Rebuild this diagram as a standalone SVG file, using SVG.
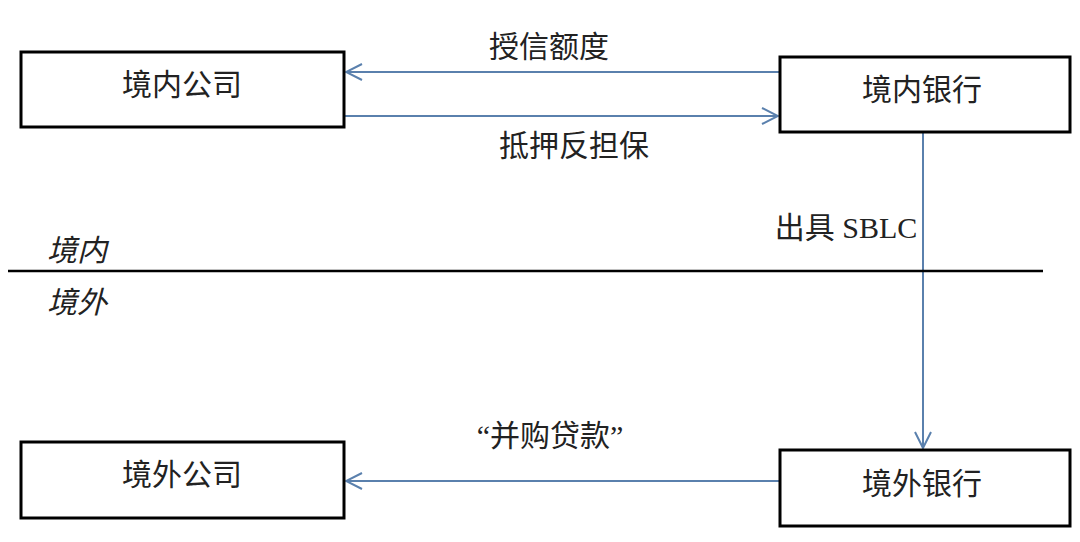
<svg xmlns="http://www.w3.org/2000/svg" width="1080" height="542" viewBox="0 0 1080 542">
<defs>
<style>
.box{fill:#fff;stroke:#000;stroke-width:3}
.nt{font-family:"Liberation Serif","Noto Sans CJK SC",serif;font-size:30px;fill:#222;text-anchor:middle}
.lbl{font-family:"Liberation Serif","Noto Sans CJK SC",serif;font-size:30px;fill:#222;text-anchor:middle}
.it{font-family:"Liberation Serif","Noto Sans CJK SC",serif;font-size:30px;fill:#222;font-style:italic}
.ar{stroke:#5a80ad;stroke-width:2;fill:none}
</style>
<marker id="ah" viewBox="0 0 20 20" refX="18" refY="10" markerWidth="20" markerHeight="20" markerUnits="userSpaceOnUse" orient="auto">
<path d="M2,2 L18,10 L2,18" fill="none" stroke="#5a80ad" stroke-width="2"/>
</marker>
</defs>
<rect width="1080" height="542" fill="#fff"/>
<g id="connectors">
<line class="ar" x1="780" y1="72" x2="346" y2="72" marker-end="url(#ah)"/>
<line class="ar" x1="344" y1="116" x2="778" y2="116" marker-end="url(#ah)"/>
<line class="ar" x1="923" y1="133" x2="923" y2="448" marker-end="url(#ah)"/>
<line class="ar" x1="780" y1="481" x2="346" y2="481" marker-end="url(#ah)"/>
<text class="lbl" x="549" y="57">授信额度</text>
<text class="lbl" x="574" y="156">抵押反担保</text>
<text class="lbl" x="846" y="238">出具 SBLC</text>
<text class="lbl" x="550" y="446">“并购贷款”</text>
</g>
<g id="border">
<line x1="8" y1="271" x2="1043" y2="271" stroke="#000" stroke-width="2.5"/>
<text class="it" x="47" y="261">境内</text>
<text class="it" x="47" y="313">境外</text>
</g>
<g id="n1"><rect class="box" x="21" y="52" width="323" height="75"/><text class="nt" x="182" y="95">境内公司</text></g>
<g id="n2"><rect class="box" x="780" y="57" width="290" height="75"/><text class="nt" x="922" y="100">境内银行</text></g>
<g id="n3"><rect class="box" x="21" y="442" width="323" height="76"/><text class="nt" x="182" y="485">境外公司</text></g>
<g id="n4"><rect class="box" x="780" y="450" width="290" height="76"/><text class="nt" x="922" y="494">境外银行</text></g>
</svg>
